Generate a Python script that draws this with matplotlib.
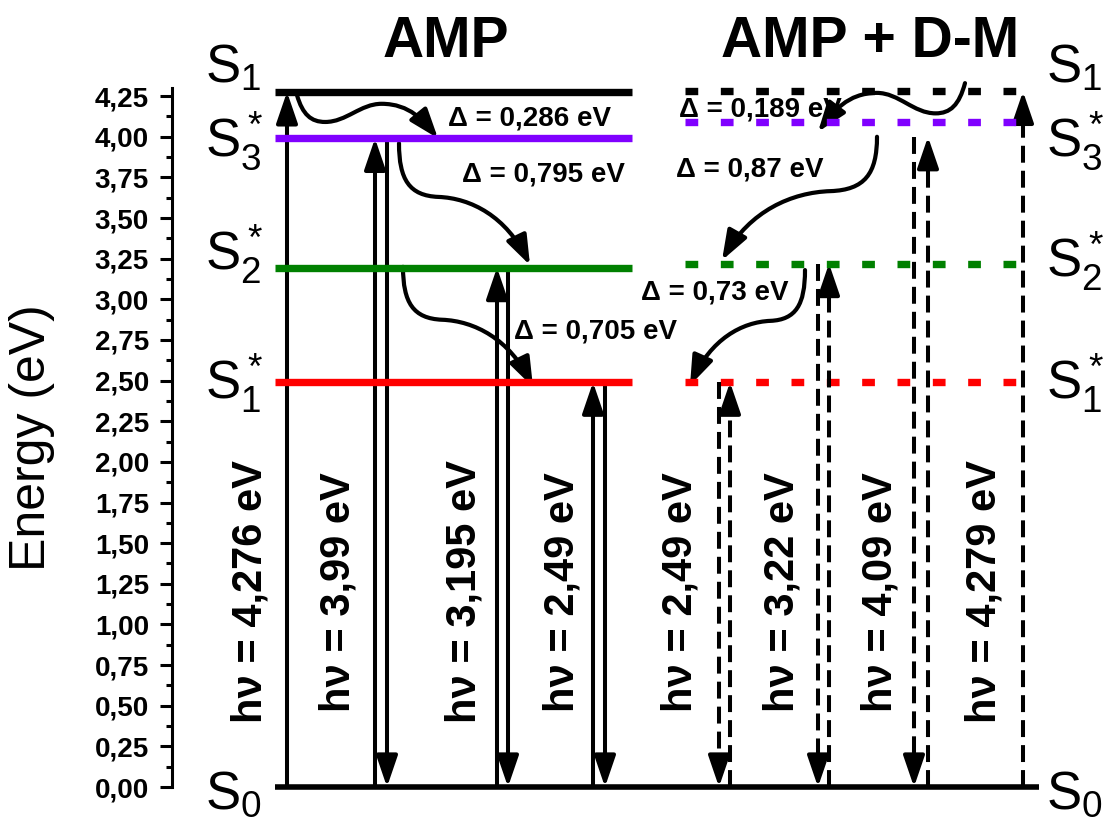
import numpy as np
import matplotlib
matplotlib.use('Agg')
import matplotlib.pyplot as plt
from matplotlib.patches import FancyArrowPatch
from matplotlib.path import Path

plt.rcParams['font.family'] = ['Liberation Sans', 'DejaVu Sans']
plt.rcParams['mathtext.fontset'] = 'custom'
plt.rcParams['mathtext.rm'] = 'Liberation Sans'
plt.rcParams['mathtext.default'] = 'rm'

# energy levels, eV  (S1, S3*, S2*, S1*)
amp_levels = [4.276, 3.99, 3.195, 2.49]
dm_levels = [4.279, 4.09, 3.22, 2.49]
level_colors = ['black', '#8000ff', 'green', 'red']
amp_span = (103, 460)
dm_span = (513, 848)
s0_span = (103, 867)

# absorption (up) / emission (down) arrows
amp_abs_x = [115, 203, 325, 421]
amp_abs_top = [4.276, 3.99, 3.195, 2.49]
amp_em_x = [215, 336, 433]
amp_em_top = [3.99, 3.195, 2.49]
dm_abs_x = [558, 657, 756, 851]
dm_abs_top = [2.49, 3.22, 4.00, 4.279]
dm_em_x = [547, 646, 742]
dm_em_top = [2.49, 3.22, 4.00]

hv_labels = ['4,276', '3,99', '3,195', '2,49', '2,49', '3,22', '4,09', '4,279']
hv_x = [79, 166, 293, 390, 508, 611, 708, 813]
hv_y = 1.2

# non-radiative relaxations: x0, E0, x1, E1
relax_wave = [(125, 4.256, 266, 3.99), (793, 4.33, 646, 4.03)]
relax_shelf = [(227, 3.96, 358, 3.21), (231, 3.20, 361, 2.46),
               (705, 4.00, 550, 3.24), (633, 3.18, 518, 2.47)]
delta_labels = ['0,286', '0,795', '0,705', '0,73', '0,87', '0,189']
delta_x = [358, 371, 423, 543, 578, 588]
delta_y = [4.114, 3.77, 2.80, 3.04, 3.80, 4.17]

state_labels = [r'$S_1$', r'$S_3^*$', r'$S_2^*$', r'$S_1^*$', r'$S_0$']
state_base_left = [4.336, 3.875, 3.18, 2.39, -0.13]
state_base_right = [4.336, 3.875, 3.14, 2.39, -0.13]

yticks = np.arange(0, 4.26, 0.25)
ytick_labels = [f'{v:.2f}'.replace('.', ',') for v in yticks]

fig = plt.figure(figsize=(11.04, 8.22), dpi=100)
ax = fig.add_axes([172 / 1104, 35 / 822, 932 / 1104, 699 / 822])
ax.set_xlim(0, 932)
ax.set_ylim(0, 4.30)

lw_level = 5.3
for e, c in zip(amp_levels, level_colors):
    ax.plot(amp_span, [e, e], color=c, lw=lw_level, solid_capstyle='butt', clip_on=False)
for e, c in zip(dm_levels, level_colors):
    ax.plot(dm_span, [e, e], color=c, lw=lw_level, ls=(0, (1.73, 3.07)),
            dash_capstyle='butt', clip_on=False)
ax.plot(s0_span, [0, 0], color='black', lw=4, solid_capstyle='butt', clip_on=False)

head = '-|>,head_length=19,head_width=6.5'


def varrow(x, y0, y1, dashed=False):
    if not dashed:
        ax.add_patch(FancyArrowPatch((x, y0), (x, y1), arrowstyle=head,
                                     mutation_scale=1, lw=2.9, color='black',
                                     shrinkA=0, shrinkB=0, clip_on=False))
        return
    # dashed shaft + solid head
    step = 0.17 if y1 > y0 else -0.17
    ax.plot([x, x], [y0, y1 - step], color='black', lw=2.9, ls=(0, (4.2, 2.0)),
            dash_capstyle='butt', clip_on=False)
    ax.add_patch(FancyArrowPatch((x, y1 - step), (x, y1), arrowstyle=head,
                                 mutation_scale=1, lw=2.9, color='black',
                                 shrinkA=0, shrinkB=0, clip_on=False))


for x, t in zip(amp_abs_x, amp_abs_top):
    varrow(x, 0, t)
for x, t in zip(amp_em_x, amp_em_top):
    varrow(x, t, 0)
for x, t in zip(dm_abs_x, dm_abs_top):
    varrow(x, 0, t, dashed=True)
for x, t in zip(dm_em_x, dm_em_top):
    varrow(x, t, 0, dashed=True)

shape_wave = [(0, 0), (0.04, 0.45), (0.1, 0.62), (0.2, 0.62), (0.35, 0.62), (0.45, 0.2),
              (0.6, 0.2), (0.8, 0.2), (0.9, 0.6), (1, 1)]
shape_shelf = [(0, 0), (0, 0.3), (0.08, 0.43), (0.3, 0.44), (0.55, 0.45), (0.82, 0.6), (1, 1)]


def curvy(x0, e0, x1, e1, shape):
    pts = [(x0 + u * (x1 - x0), e0 + v * (e1 - e0)) for u, v in shape]
    codes = [Path.MOVETO] + [Path.CURVE4] * (len(pts) - 1)
    ax.add_patch(FancyArrowPatch(path=Path(pts, codes),
                                 arrowstyle='-|>,head_length=18,head_width=6.5',
                                 mutation_scale=1, lw=3, color='black', clip_on=False))


for r in relax_wave:
    curvy(*r, shape_wave)
for r in relax_shelf:
    curvy(*r, shape_shelf)

for lab, x, y in zip(delta_labels, delta_x, delta_y):
    ax.text(x, y, f'Δ = {lab} eV', fontsize=20, fontweight='bold', ha='center', va='center')

for lab, x in zip(hv_labels, hv_x):
    ax.text(x, hv_y, f'hν = {lab} eV', fontsize=30, fontweight='bold', rotation=90,
            ha='center', va='center')

for lab, yb in zip(state_labels, state_base_left):
    ax.text(33, yb, lab, fontsize=38, ha='left', va='baseline')
for lab, yb in zip(state_labels, state_base_right):
    ax.text(874, yb, lab, fontsize=38, ha='left', va='baseline')

ax.text(274, 4.58, 'AMP', fontsize=41, fontweight='bold', ha='center', va='center')
ax.text(698, 4.58, 'AMP + D-M', fontsize=41, fontweight='bold', ha='center', va='center')

ax.set_yticks(yticks, labels=ytick_labels, fontsize=20, fontweight='bold')
ax.set_yticks(np.arange(0.125, 4.30, 0.25), minor=True)
ax.tick_params(axis='y', which='major', direction='out', length=8.6, width=2.2, pad=8)
ax.tick_params(axis='y', which='minor', direction='out', length=4.3, width=2.2)
ax.set_xticks([])
for s in ['top', 'right', 'bottom']:
    ax.spines[s].set_visible(False)
ax.spines['left'].set_linewidth(2.2)
ax.set_ylabel('Energy (eV)', fontsize=36)
ax.yaxis.set_label_coords(-0.125, 0.5)

fig.savefig('out.png', dpi=100)
